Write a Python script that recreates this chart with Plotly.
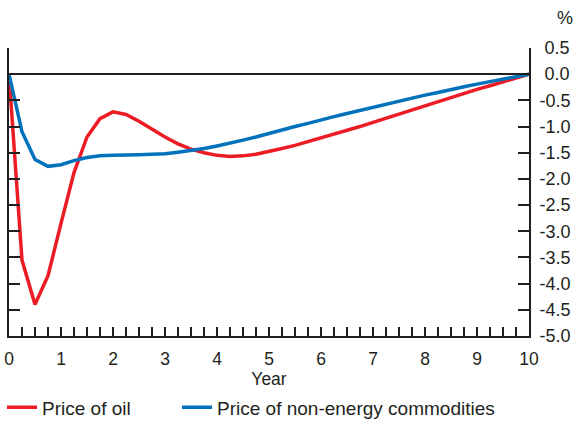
import plotly.graph_objects as go

years = [i * 0.25 for i in range(41)]

oil = [0, -3.55, -4.4, -3.85, -2.85, -1.88, -1.2, -0.85, -0.72, -0.77,
       -0.9, -1.05, -1.2, -1.33, -1.43, -1.5, -1.55, -1.57, -1.56, -1.53,
       -1.48, -1.42, -1.36, -1.29, -1.22, -1.15, -1.07, -1.0, -0.92, -0.84,
       -0.76, -0.68, -0.6, -0.52, -0.44, -0.37, -0.29, -0.22, -0.15, -0.08, 0]

non_energy = [0, -1.1, -1.63, -1.76, -1.73, -1.65, -1.59, -1.56, -1.55, -1.55,
              -1.54, -1.53, -1.52, -1.49, -1.46, -1.42, -1.37, -1.32, -1.26, -1.2,
              -1.13, -1.07, -1.0, -0.94, -0.87, -0.81, -0.75, -0.69, -0.63, -0.57,
              -0.51, -0.46, -0.4, -0.35, -0.29, -0.24, -0.19, -0.14, -0.09, -0.05, 0]

y_tickvals = [0.5, 0.0, -0.5, -1.0, -1.5, -2.0, -2.5, -3.0, -3.5, -4.0, -4.5, -5.0]
y_ticktext = ["\u00a00.5", "\u00a00.0", "-0.5", "-1.0", "-1.5", "-2.0", "-2.5",
              "-3.0", "-3.5", "-4.0", "-4.5", "-5.0"]
x_tickvals = list(range(11))

RED = "#ED1C24"
BLUE = "#0072BC"
INK = "#231F20"
FONT = "Liberation Sans, Arial, sans-serif"

W, H = 574, 422

fig = go.Figure()
fig.add_trace(go.Scatter(x=years, y=oil, mode="lines", name="Price of oil",
                         line=dict(color=RED, width=3.5), legend="legend"))
fig.add_trace(go.Scatter(x=years, y=non_energy, mode="lines",
                         name="Price of non-energy commodities",
                         line=dict(color=BLUE, width=3.5), legend="legend2"))

legend_common = dict(orientation="h", xref="container", yref="container",
                     xanchor="left", yanchor="middle",
                     font=dict(size=19, color=INK), itemwidth=30,
                     bgcolor="rgba(0,0,0,0)")

fig.update_layout(
    width=W, height=H,
    margin=dict(l=9, r=45, t=48, b=86, autoexpand=False),
    paper_bgcolor="white", plot_bgcolor="white",
    font=dict(family=FONT, color=INK, size=16),
    showlegend=True,
    legend=dict(x=2 / W, y=1 - 407.5 / H, **legend_common),
    legend2=dict(x=177 / W, y=1 - 407.5 / H, **legend_common),
    xaxis=dict(range=[0, 10], showgrid=False, zeroline=False, automargin=False,
               showline=True, linecolor=INK, linewidth=2,
               ticks="inside", ticklen=9, tickwidth=2, tickcolor=INK,
               tickvals=x_tickvals, ticktext=[str(v) for v in x_tickvals],
               minor=dict(dtick=0.25, tick0=0, ticks="inside", ticklen=9,
                          tickwidth=2, tickcolor=INK),
               tickfont=dict(size=17.5, color=INK), ticklabelstandoff=6,
               ticklabeloverflow="allow",
               title=dict(text="Year", font=dict(size=17.5, color=INK), standoff=2)),
    yaxis=dict(range=[-5, 0.5], side="right", showgrid=False, automargin=False,
               zeroline=True, zerolinecolor=INK, zerolinewidth=2,
               showline=True, mirror="ticks", linecolor=INK, linewidth=2,
               ticks="inside", ticklen=11, tickwidth=2, tickcolor=INK,
               tickvals=y_tickvals, ticktext=y_ticktext,
               tickfont=dict(size=18, color=INK), ticklabelstandoff=5,
               ticklabeloverflow="allow"),
)

fig.add_annotation(text="%", xref="paper", yref="paper", x=1.0, y=1.0,
                   xanchor="left", yanchor="bottom", xshift=26, yshift=18,
                   showarrow=False, font=dict(size=18, color=INK))

# remove the browser's default 8px body margin so the figure fills the window
fig.write_html("out.html", config={"displayModeBar": False},
               post_script="document.body.style.margin='0';")
